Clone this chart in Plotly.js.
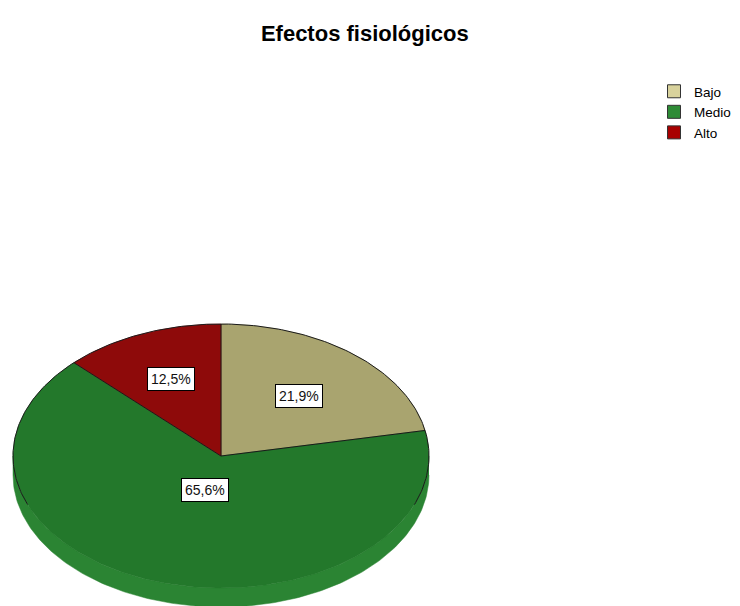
<!DOCTYPE html>
<html>
<head>
<meta charset="utf-8">
<script src="https://cdn.plot.ly/plotly-3.0.1.min.js"></script>
<style>html,body{margin:0;padding:0;background:#fff;}#chart{width:740px;height:606px;}</style>
</head>
<body>
<div id="chart"></div>
<script>
// ---- data ----
const categories = ['Bajo', 'Medio', 'Alto'];
const percents = [21.9, 65.6, 12.5];
const percentLabels = ['21,9%', '65,6%', '12,5%'];

// ---- styles ----
const topColors = ['#A9A46F', '#23782B', '#8E0A0A'];
const sideColors = ['#8F8A5C', '#2B8433', '#6E0505'];
const legendColors = ['#D8D29C', '#2E8B36', '#A80000'];
const labelRadius = [0.59, 0.27, 0.63];

// ---- geometry of the tilted pie (in plot pixel units) ----
const cx = 221, cy = 456, rx = 208, ry = 132, depth = 19;
const FONT = '"Liberation Sans", Arial, sans-serif';

function pt(theta, dy) {
  return [cx + rx * Math.sin(theta), cy - ry * Math.cos(theta) + (dy || 0)];
}
function arc(t0, t1, dy) {
  const n = Math.max(2, Math.ceil(Math.abs(t1 - t0) / (Math.PI / 180)));
  const xs = [], ys = [];
  for (let i = 0; i <= n; i++) {
    const p = pt(t0 + (t1 - t0) * i / n, dy);
    xs.push(p[0]); ys.push(p[1]);
  }
  return [xs, ys];
}

const total = percents.reduce((a, b) => a + b, 0);
const sideTraces = [], topTraces = [], legendTraces = [], annotations = [];
const edgeX = [], edgeY = [];
let cum = 0;
categories.forEach((cat, i) => {
  const t0 = 2 * Math.PI * cum / total;
  cum += percents[i];
  const t1 = 2 * Math.PI * cum / total;

  // visible side wall (front half: PI/2 .. 3PI/2)
  const s0 = Math.max(t0, Math.PI / 2), s1 = Math.min(t1, 3 * Math.PI / 2);
  if (s1 > s0) {
    const up = arc(s0, s1, 0), dn = arc(s0, s1, depth);
    sideTraces.push({
      type: 'scatter', mode: 'lines', fill: 'toself',
      x: up[0].concat(dn[0].slice().reverse()),
      y: up[1].concat(dn[1].slice().reverse()),
      fillcolor: sideColors[i], line: {color: sideColors[i], width: 0.5},
      hoverinfo: 'skip', showlegend: false
    });
  }

  // top face
  const a = arc(t0, t1, 0);
  topTraces.push({
    type: 'scatter', mode: 'lines', fill: 'toself',
    x: [cx].concat(a[0], [cx]), y: [cy].concat(a[1], [cy]),
    fillcolor: topColors[i], line: {color: topColors[i], width: 0.5},
    name: cat, hoverinfo: 'name', showlegend: false
  });

  // radial boundary line
  const b = pt(t0, 0);
  edgeX.push(cx, b[0], null); edgeY.push(cy, b[1], null);

  // legend entry
  legendTraces.push({
    type: 'scatter', mode: 'markers', x: [null], y: [null], name: cat,
    marker: {symbol: 'square', size: 13, color: legendColors[i], line: {color: '#333', width: 1}}
  });

  // label
  const mid = (t0 + t1) / 2;
  annotations.push({
    x: cx + rx * labelRadius[i] * Math.sin(mid),
    y: cy - ry * labelRadius[i] * Math.cos(mid),
    xref: 'x', yref: 'y', showarrow: false,
    text: percentLabels[i],
    font: {family: FONT, size: 14, color: '#111'},
    bgcolor: '#ffffff', bordercolor: '#000', borderwidth: 1, borderpad: 3
  });
});

// outer rim outline (back and sides only; front rim has no dark line)
const rim = arc(-0.62 * Math.PI, 0.62 * Math.PI, 0);
edgeX.push(...rim[0]); edgeY.push(...rim[1]);
const edgeTrace = {
  type: 'scatter', mode: 'lines', x: edgeX, y: edgeY,
  line: {color: '#1a1a1a', width: 1}, hoverinfo: 'skip', showlegend: false
};

const layout = {
  width: 740, height: 606,
  margin: {l: 0, r: 0, t: 0, b: 0},
  paper_bgcolor: '#fff', plot_bgcolor: '#fff',
  title: {
    text: '<b>Efectos fisiológicos</b>',
    font: {family: FONT, size: 22, color: '#000'},
    x: 0.493, xanchor: 'center', y: 1 - 33 / 606, yref: 'container', yanchor: 'middle'
  },
  xaxis: {range: [0, 740], visible: false, fixedrange: true},
  yaxis: {range: [606, 0], visible: false, fixedrange: true},
  showlegend: true,
  legend: {
    x: 654 / 740, y: 1 - 76 / 606, xanchor: 'left', yanchor: 'top',
    font: {family: FONT, size: 13.5, color: '#000'},
    bgcolor: 'rgba(0,0,0,0)', tracegroupgap: 0, itemwidth: 30
  },
  annotations: annotations
};

Plotly.newPlot('chart', sideTraces.concat(topTraces, [edgeTrace], legendTraces), layout,
  {displayModeBar: false, staticPlot: true});
</script>
</body>
</html>
